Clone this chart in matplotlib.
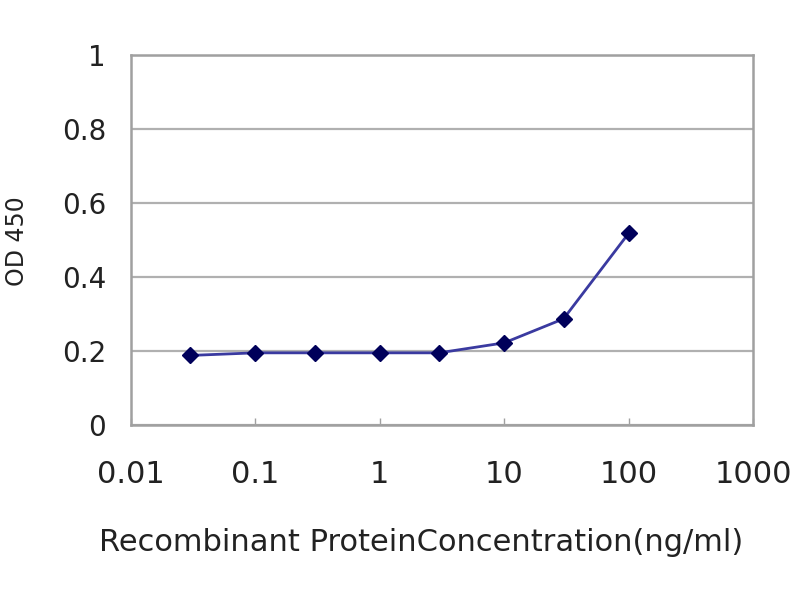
import matplotlib
matplotlib.use("Agg")
from matplotlib import pyplot as plt
from matplotlib.ticker import FixedLocator, NullLocator

conc = [0.03, 0.1, 0.3, 1, 3, 10, 30, 100]
od450 = [0.188, 0.195, 0.195, 0.195, 0.195, 0.222, 0.287, 0.518]

x_ticks = [0.01, 0.1, 1, 10, 100, 1000]
x_labels = ["0.01", "0.1", "1", "10", "100", "1000"]
y_ticks = [0, 0.2, 0.4, 0.6, 0.8, 1]
y_labels = ["0", "0.2", "0.4", "0.6", "0.8", "1"]

plt.rcParams["font.family"] = ["DejaVu Sans"]

fig = plt.figure(figsize=(8, 6), dpi=100)
ax = fig.add_axes([0.16375, 0.2917, 0.7775, 0.6166])

ax.plot(conc, od450, color="#3a3aa0", lw=2, zorder=3)
ax.plot(conc, od450, ls="none", marker="D", ms=8.5, color="#00005a", zorder=4)

ax.set_xscale("log")
ax.set_xlim(0.01, 1000)
ax.set_ylim(0, 1)

ax.xaxis.set_major_locator(FixedLocator(x_ticks))
ax.xaxis.set_minor_locator(NullLocator())
ax.set_xticklabels(x_labels)
ax.set_yticks(y_ticks)
ax.set_yticklabels(y_labels)

ax.tick_params(axis="x", direction="in", length=5, width=1, color="#a0a0a0",
               labelsize=22, pad=25, labelcolor="#222222")
ax.tick_params(axis="y", length=0, labelsize=20, pad=18, labelcolor="#222222")

ax.grid(axis="y", color="#b0b0b0", lw=1.6)
ax.set_axisbelow(True)
for s in ax.spines.values():
    s.set_color("#a0a0a0")
    s.set_linewidth(1.8)

ax.set_xlabel("Recombinant ProteinConcentration(ng/ml)", fontsize=22, color="#222222")
ax.xaxis.label.set_va("center")
ax.xaxis.set_label_coords(0.466, -0.319)
ax.set_ylabel("OD 450", fontsize=17, color="#222222")
ax.yaxis.label.set_va("center")
ax.yaxis.set_label_coords(-0.183, 0.497)

fig.savefig("out.png", dpi=100)
